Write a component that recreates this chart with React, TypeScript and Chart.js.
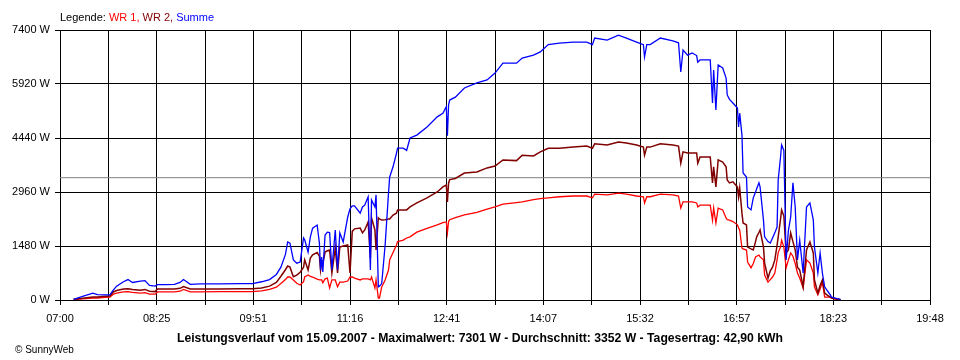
import { useEffect, useRef } from 'react';
import { Chart, registerables } from 'chart.js';

Chart.register(...registerables);

const times = [
  '07:12','07:20','07:29','07:33','07:40','07:44','07:47','07:50','07:56','08:00',
  '08:04','08:11','08:15','08:19','08:24','08:26','08:33','08:41','08:46','08:49',
  '08:55','09:04','09:21','09:39','09:50','09:58','10:05','10:11','10:15','10:19',
  '10:21','10:23','10:26','10:29','10:32','10:35','10:36','10:39','10:41','10:43',
  '10:47','10:49','10:50','10:51','10:52','10:54','10:56','10:58','11:00','11:03',
  '11:05','11:07','11:10','11:14','11:16','11:18','11:20','11:25','11:27','11:29',
  '11:32','11:34','11:35','11:38','11:39','11:41','11:42','11:44','11:47','11:50',
  '11:51','11:54','11:57','11:58','12:03','12:06','12:09','12:15','12:24','12:33',
  '12:38','12:41','12:42','12:43','12:44','12:49','12:57','13:08','13:17','13:24',
  '13:31','13:43','13:48','13:58','14:04','14:11','14:21','14:33','14:45','14:50',
  '14:52','15:03','15:13','15:20','15:29','15:35','15:36','15:38','15:41','15:50',
  '16:01','16:06','16:08','16:10','16:14','16:18','16:22','16:23','16:25','16:34',
  '16:36','16:37','16:39','16:41','16:45','16:48','16:49','16:51','16:54','16:58',
  '16:59','17:00','17:02','17:03','17:06','17:07','17:10','17:12','17:14','17:15',
  '17:17','17:18','17:21','17:22','17:25','17:27','17:29','17:31','17:33','17:34',
  '17:36','17:37','17:39','17:41','17:43','17:45','17:47','17:49','17:51','17:53',
  '17:56','17:59','18:02','18:05','18:06','18:09','18:11','18:13','18:15','18:17',
  '18:20','18:21','18:26','18:29'
];

const wr1 = [
  15,30,55,55,70,80,160,190,220,230,
  210,190,200,160,160,220,220,220,240,290,
  220,220,230,230,230,250,290,350,450,560,
  630,630,550,460,410,500,630,685,650,630,
  570,550,550,550,470,580,600,330,550,550,
  360,490,490,520,630,630,600,550,580,580,
  580,550,630,330,550,55,55,360,550,820,
  1100,1300,1500,1600,1640,1700,1730,1860,1960,2060,
  2120,2140,1840,2150,2200,2260,2330,2400,2490,2550,
  2630,2670,2690,2750,2780,2800,2830,2850,2850,2800,
  2900,2880,2930,2900,2850,2830,2660,2830,2830,2900,
  2880,2850,2520,2690,2690,2690,2660,2550,2600,2600,
  2190,2520,2110,2520,2470,2250,2200,2190,2150,2060,
  1980,1920,1425,1400,1370,1040,880,1000,1180,1200,
  1230,1180,1100,685,490,560,630,740,1100,1300,
  1450,1640,1450,880,1100,1290,1200,1000,740,600,
  330,1100,1010,740,360,140,300,490,80,80,
  80,50,20,10
];

const wr2 = [
  15,50,80,80,100,110,220,260,300,310,
  290,270,290,240,230,300,300,300,320,370,
  300,300,300,310,310,330,380,480,650,830,
  930,900,640,680,760,900,1100,820,1150,1240,
  1300,1200,820,1050,1000,1315,1350,1370,740,1425,
  740,1450,1480,1510,740,1880,1950,1970,1840,1920,
  2140,1150,2250,1920,1370,2250,2220,2190,2200,2220,
  2220,2330,2380,2470,2470,2470,2550,2660,2800,2960,
  3100,3150,2690,3200,3300,3330,3480,3510,3620,3670,
  3840,3820,3970,3950,4060,4160,4160,4190,4220,4160,
  4280,4250,4330,4300,4250,4190,3970,4190,4190,4280,
  4250,4220,3750,4060,4030,4030,4030,3750,3920,3920,
  3210,3650,3100,3840,3780,3650,3290,3210,3240,3100,
  2830,3070,2380,2110,2060,1450,1400,1370,1600,1730,
  1850,1920,1450,1010,600,800,900,1100,1500,1730,
  2200,2470,2300,1290,1370,1840,1600,1370,900,820,
  360,1370,1590,1290,550,190,400,550,190,140,
  80,60,20,10
];

const summe = [
  20,100,190,150,140,140,270,380,500,560,
  480,520,530,400,380,420,420,430,480,560,
  430,440,440,450,450,500,560,700,900,1250,
  1590,1560,1100,1010,1040,1700,1650,1315,1730,1970,
  2055,1560,820,1180,770,1780,1860,1850,830,1920,
  830,1840,1590,2275,2500,2580,2580,2380,2550,2600,
  2830,820,2740,2550,2880,360,380,450,1500,2930,
  3370,3650,4020,4160,4160,4100,4440,4520,4740,5020,
  5120,5300,4500,5340,5480,5560,5810,5950,6030,6220,
  6490,6490,6630,6710,6800,7000,7040,7070,7070,7000,
  7180,7125,7260,7180,7070,7000,6660,7000,7000,7180,
  7100,7050,6250,6850,6710,6770,6700,6520,6580,6580,
  5400,6300,5210,6440,6360,6080,5620,5500,5400,5260,
  4740,5120,4520,3480,3370,2550,2470,2800,2960,3050,
  3210,3100,2190,1730,1600,1560,1700,1840,2000,3290,
  3900,4250,4100,1100,1900,2275,3210,2550,1100,1640,
  740,2550,2660,2190,1450,740,1290,740,360,270,
  140,80,40,20
];

const seriesNames = ['WR 1', 'WR 2', 'Summe'];
const seriesColors = ['#ff0000', '#800000', '#0000ff'];
const xTickLabels = ['07:00','08:25','09:51','11:16','12:41','14:07','15:32','16:57','18:23','19:48'];
const yTicks = [0, 1480, 2960, 4440, 5920, 7400];
const averageW = 3352;
const titleText = 'Leistungsverlauf vom 15.09.2007 - Maximalwert: 7301 W - Durchschnitt: 3352 W - Tagesertrag: 42,90 kWh';
const copyrightText = '\u00A9 SunnyWeb';

const FONT = '"Liberation Sans", Arial, sans-serif';

const toMin = (s: string) => {
  const [h, m] = s.split(':').map(Number);
  return h * 60 + m;
};

const xMin = toMin(xTickLabels[0]);
const xMax = toMin(xTickLabels[xTickLabels.length - 1]);

const pts = (vals: number[]) => vals.map((v, i) => ({ x: toMin(times[i]), y: v }));

const textPlugin = {
  id: 'sunnyTexts',
  afterDraw(chart: any) {
    const ctx = chart.ctx as CanvasRenderingContext2D;
    ctx.save();
    ctx.textBaseline = 'alphabetic';
    ctx.textAlign = 'left';
    ctx.font = `11px ${FONT}`;
    const parts: [string, string][] = [
      ['Legende: ', '#000000'],
      [seriesNames[0] + ', ', seriesColors[0]],
      [seriesNames[1] + ', ', seriesColors[1]],
      [seriesNames[2], seriesColors[2]],
    ];
    let x = chart.chartArea.left;
    for (const [t, c] of parts) {
      ctx.fillStyle = c;
      ctx.fillText(t, x, 21);
      x += ctx.measureText(t).width;
    }
    ctx.fillStyle = '#000000';
    ctx.font = `bold 12px ${FONT}`;
    const w12 = ctx.measureText(titleText).width;
    const size = Math.min(13, (12 * 606) / w12);
    ctx.font = `bold ${size.toFixed(2)}px ${FONT}`;
    ctx.textAlign = 'center';
    ctx.fillText(titleText, 480, 342);
    ctx.font = `10px ${FONT}`;
    ctx.textAlign = 'left';
    ctx.fillText(copyrightText, 15, 353);
    ctx.restore();
  },
};

export default function App() {
  const ref = useRef<HTMLCanvasElement | null>(null);

  useEffect(() => {
    if (!ref.current) return;
    const xTickValues = Array.from({ length: 19 }, (_, i) => xMin + (i * (xMax - xMin)) / 18);
    const chart = new Chart(ref.current, {
      type: 'line',
      data: {
        datasets: [
          {
            label: seriesNames[2],
            data: pts(summe),
            borderColor: seriesColors[2],
            borderWidth: 1.3,
            pointRadius: 0,
            tension: 0,
          },
          {
            label: seriesNames[1],
            data: pts(wr2),
            borderColor: seriesColors[1],
            borderWidth: 1.5,
            pointRadius: 0,
            tension: 0,
          },
          {
            label: seriesNames[0],
            data: pts(wr1),
            borderColor: seriesColors[0],
            borderWidth: 1.3,
            pointRadius: 0,
            tension: 0,
          },
          {
            label: 'Durchschnitt',
            data: [
              { x: xMin, y: averageW },
              { x: xMax, y: averageW },
            ],
            borderColor: '#808080',
            borderWidth: 1,
            pointRadius: 0,
            tension: 0,
          },
        ],
      },
      options: {
        animation: false,
        responsive: false,
        maintainAspectRatio: false,
        layout: { padding: { top: 30, right: 30, left: 0, bottom: 0 } },
        plugins: {
          legend: { display: false },
          tooltip: { enabled: false },
          title: { display: false },
        },
        scales: {
          x: {
            type: 'linear',
            min: xMin,
            max: xMax,
            afterBuildTicks: (s: any) => {
              s.ticks = xTickValues.map((v) => ({ value: v }));
            },
            afterFit: (s: any) => {
              s.height = 60;
            },
            grid: { color: '#000000', lineWidth: 1, drawTicks: true, tickLength: 5 },
            border: { color: '#000000', width: 1 },
            ticks: {
              autoSkip: false,
              maxRotation: 0,
              minRotation: 0,
              padding: 7,
              color: '#000000',
              font: { family: FONT, size: 11 },
              callback: (_v: any, i: number) => (i % 2 === 0 ? xTickLabels[i / 2] : ''),
            },
          },
          y: {
            min: yTicks[0],
            max: yTicks[yTicks.length - 1],
            afterBuildTicks: (s: any) => {
              s.ticks = yTicks.map((v) => ({ value: v }));
            },
            afterFit: (s: any) => {
              s.width = 60;
            },
            grid: { color: '#000000', lineWidth: 1, drawTicks: true, tickLength: 5 },
            border: { color: '#000000', width: 1 },
            ticks: {
              padding: 5,
              color: '#000000',
              font: { family: FONT, size: 11 },
              callback: (v: any) => `${v} W`,
            },
          },
        },
      },
      plugins: [textPlugin],
    });
    return () => chart.destroy();
  }, []);

  return (
    <div style={{ position: 'absolute', left: 0, top: 0, width: 960, height: 360, background: '#ffffff' }}>
      <canvas ref={ref} width={960} height={360} style={{ width: 960, height: 360 }} />
    </div>
  );
}
